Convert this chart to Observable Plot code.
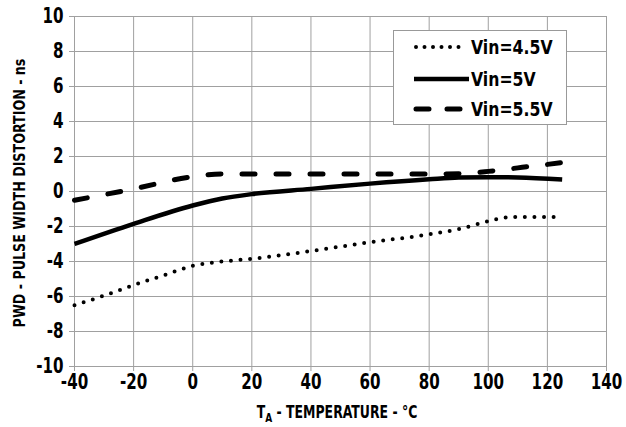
<!DOCTYPE html>
<html><head><meta charset="utf-8">
<script src="https://cdn.jsdelivr.net/npm/d3@7"></script>
<script src="https://cdn.jsdelivr.net/npm/@observablehq/plot@0.6"></script>
<style>
body{margin:0;background:#fff;}
#wrap{position:relative;width:626px;height:427px;font-family:"DejaVu Sans Condensed","DejaVu Sans",sans-serif;font-weight:bold;color:#000;}
#ylab{position:absolute;left:19px;top:193px;transform:translate(-50%,-50%) rotate(-90deg) scaleX(0.88);white-space:nowrap;font-size:16px;}
#xlab{position:absolute;left:337px;top:403px;transform:translateX(-50%) scaleX(0.77);white-space:nowrap;font-size:18px;line-height:18px;}
#xlab sub{font-size:13px;vertical-align:-4px;line-height:0;}
#legend{position:absolute;left:393px;top:30px;width:174px;height:95px;box-sizing:border-box;border:1px solid #999;background:#fff;}
</style></head><body>
<div id="wrap">
<div id="ylab">PWD - PULSE WIDTH DISTORTION - ns</div>
<div id="xlab">T<sub>A</sub> - TEMPERATURE - °C</div>
</div>
<script>
const xTicks = [-40,-20,0,20,40,60,80,100,120,140];
const yTicks = [-10,-8,-6,-4,-2,0,2,4,6,8,10];
const seriesNames = ["Vin=4.5V","Vin=5V","Vin=5.5V"];

const t45 = [-40,-30,-20,-10,0,10,20,40,60,80,90,100,105,110,125];
const v45 = [-6.5,-5.95,-5.35,-4.8,-4.25,-4.0,-3.85,-3.4,-2.9,-2.45,-2.15,-1.7,-1.5,-1.45,-1.45];

const t50 = [-40,-20,0,10,20,40,60,80,90,100,110,125];
const v50 = [-3.0,-1.85,-0.8,-0.4,-0.15,0.15,0.45,0.7,0.8,0.82,0.8,0.68];

const t55 = [-40,-20,0,10,20,40,60,80,90,100,110,125];
const v55 = [-0.5,0.15,0.85,1.0,1.0,1.0,1.0,1.0,1.02,1.15,1.35,1.65];

const styles = [
  {strokeWidth:4, strokeDasharray:"0 9.6", strokeLinecap:"round"},
  {strokeWidth:4.5, strokeDasharray:null, strokeLinecap:"butt"},
  {strokeWidth:5, strokeDasharray:"13 21", strokeLinecap:"round"}
];

const toRows = (ts, vs) => ts.map((t,i)=>({t, v: vs[i]}));
const d45 = toRows(t45,v45), d50 = toRows(t50,v50), d55 = toRows(t55,v55);

const font = '"DejaVu Sans Condensed","DejaVu Sans",sans-serif';
const chart = Plot.plot({
  width:626, height:427,
  marginLeft:74, marginRight:20, marginTop:16, marginBottom:61,
  x:{domain:[-40,140]},
  y:{domain:[-10,10]},
  style:{fontFamily:font, fontWeight:"bold", fontSize:"21px", color:"#000", background:"white", overflow:"visible"},
  marks:[
    Plot.gridX(xTicks,{stroke:"#a0a0a0", strokeOpacity:1}),
    Plot.gridY(yTicks,{stroke:"#a0a0a0", strokeOpacity:1}),
    Plot.frame({stroke:"#a0a0a0"}),
    Plot.axisX(xTicks,{tickSize:5, tickPadding:3, stroke:"#a0a0a0", fill:"#000", label:null, tickFormat:d=>String(d)}),
    Plot.axisY(yTicks,{tickSize:5, tickPadding:6, stroke:"#a0a0a0", fill:"#000", label:null, tickFormat:d=>String(d)}),
    Plot.line(d45,{x:"t", y:"v", stroke:"#000", curve:"monotone-x", ...styles[0]}),
    Plot.line(d50,{x:"t", y:"v", stroke:"#000", curve:"monotone-x", ...styles[1]}),
    Plot.line(d55,{x:"t", y:"v", stroke:"#000", curve:"monotone-x", ...styles[2]})
  ]
});
// condense tick labels horizontally around their anchor
d3.select(chart).selectAll("text").each(function(){
  const el = d3.select(this);
  const tr = el.attr("transform");
  if (tr) el.attr("transform", tr + " scale(0.8,1)");
});
chart.style.position = "absolute";
chart.style.left = "0"; chart.style.top = "0";
const wrap = document.getElementById("wrap");
wrap.insertBefore(chart, wrap.firstChild);

// legend
const leg = document.createElement("div");
leg.id = "legend";
wrap.appendChild(leg);
const ls = d3.select(leg).append("svg").attr("width",172).attr("height",93).style("display","block");
const rowsY = [16, 48, 78];
seriesNames.forEach((name,i)=>{
  const st = styles[i];
  ls.append("line").attr("x1",i===1?20:22).attr("x2",i===1?75:72).attr("y1",rowsY[i]).attr("y2",rowsY[i])
    .attr("stroke","#000").attr("stroke-width",st.strokeWidth)
    .attr("stroke-dasharray",st.strokeDasharray ? (i===0?"0 8.5":"13 18") : null)
    .attr("stroke-linecap",st.strokeLinecap);
  ls.append("text").attr("transform",`translate(77,${rowsY[i]}) scale(0.92,1)`).attr("dy","0.35em")
    .attr("font-family",font).attr("font-weight","bold").attr("font-size",19).text(name);
});
</script>
</body></html>
